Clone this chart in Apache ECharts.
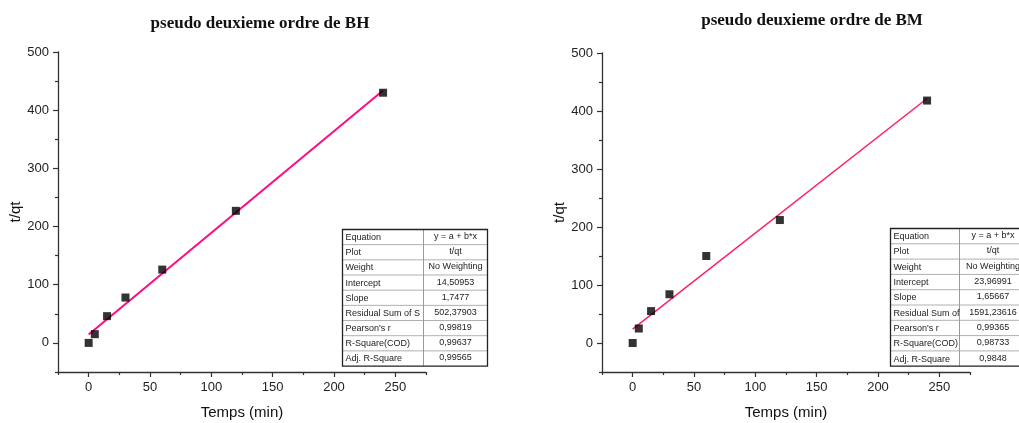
<!DOCTYPE html>
<html>
<head>
<meta charset="utf-8">
<script src="https://cdn.jsdelivr.net/npm/echarts@6/dist/echarts.min.js"></script>
<style>
  html, body { margin: 0; padding: 0; background: #fff; }
  #chart { width: 1019px; height: 423px; }
</style>
</head>
<body>
<div id="chart"></div>
<script>
// data
const temps = [0, 5, 15, 30, 60, 120, 240];
const tqtBH = [0, 15, 46, 78, 126, 227, 430];
const tqtBM = [0, 25, 55, 84, 150, 212, 418];

// linear fit y = a + b*x (from the stats tables)
const fitBH = [14.50953, 1.7477];
const fitBM = [23.96991, 1.65667];
const fitRange = [0, 240];

const xTicks = [0, 50, 100, 150, 200, 250];
const xMinorTicks = [-25, 25, 75, 125, 175, 225, 275];
const yTicks = [0, 100, 200, 300, 400, 500];
const yMinorTicks = [-50, 50, 150, 250, 350, 450];

const tableLabels = ["Equation", "Plot", "Weight", "Intercept", "Slope",
  "Residual Sum of Squares", "Pearson's r", "R-Square(COD)", "Adj. R-Square"];
const tableBH = ["y = a + b*x", "t/qt", "No Weighting", "14,50953", "1,7477",
  "502,37903", "0,99819", "0,99637", "0,99565"];
const tableBM = ["y = a + b*x", "t/qt", "No Weighting", "23,96991", "1,65667",
  "1591,23616", "0,99365", "0,98733", "0,9848"];

const sans = "'Liberation Sans', Arial, sans-serif";
const serif = "'Liberation Serif', 'Times New Roman', serif";
const axisColor = "#333";

const chart = echarts.init(document.getElementById("chart"));

function mainX(grid) {
  return {
    type: "value", gridIndex: grid, position: "bottom", min: -25, max: 275,
    name: "Temps (min)", nameLocation: "middle", nameGap: 33,
    nameTextStyle: { fontFamily: sans, fontSize: 15, color: "#111" },
    axisLine: { show: true, onZero: false, lineStyle: { color: axisColor, width: 1.3 } },
    axisTick: { show: true, length: 5, customValues: xTicks, lineStyle: { color: axisColor, width: 1.2 } },
    axisLabel: { customValues: xTicks, fontFamily: sans, fontSize: 13, color: "#222", margin: 9 },
    splitLine: { show: false }
  };
}
function minorX(grid) {
  return {
    type: "value", gridIndex: grid, position: "bottom", min: -25, max: 275,
    axisLine: { show: false, onZero: false },
    axisTick: { show: true, length: 3, customValues: xMinorTicks, lineStyle: { color: axisColor, width: 1.2 } },
    axisLabel: { show: false },
    splitLine: { show: false }
  };
}
function mainY(grid) {
  return {
    type: "value", gridIndex: grid, position: "left", min: -50, max: 500,
    name: "t/qt", nameLocation: "middle", nameGap: 32, nameRotate: 90,
    nameTextStyle: { fontFamily: sans, fontSize: 15, color: "#111" },
    axisLine: { show: true, onZero: false, lineStyle: { color: axisColor, width: 1.3 } },
    axisTick: { show: true, length: 5, customValues: yTicks, lineStyle: { color: axisColor, width: 1.2 } },
    axisLabel: { customValues: yTicks, fontFamily: sans, fontSize: 13, color: "#222", margin: 9 },
    splitLine: { show: false }
  };
}
function minorY(grid) {
  return {
    type: "value", gridIndex: grid, position: "left", min: -50, max: 500,
    axisLine: { show: false, onZero: false },
    axisTick: { show: true, length: 3, customValues: yMinorTicks, lineStyle: { color: axisColor, width: 1.2 } },
    axisLabel: { show: false },
    splitLine: { show: false }
  };
}

function fitLine(fit) {
  return fitRange.map(x => [x, fit[0] + fit[1] * x]);
}

function buildTable(x, y, w1, w2, rowH, values) {
  const children = [];
  const n = tableLabels.length;
  const w = w1 + w2, h = n * rowH;
  children.push({ type: "rect", shape: { x: 0, y: 0, width: w, height: h }, style: { fill: "#fff" } });
  for (let i = 1; i < n; i++) {
    children.push({ type: "line", shape: { x1: 0, y1: i * rowH, x2: w, y2: i * rowH },
      style: { stroke: "#b0b0b0", lineWidth: 1 } });
  }
  children.push({ type: "line", shape: { x1: w1, y1: 0, x2: w1, y2: h }, style: { stroke: "#999", lineWidth: 1 } });
  children.push({ type: "rect", shape: { x: 0, y: 0, width: w, height: h },
    style: { fill: null, stroke: "#222", lineWidth: 1.3 } });
  tableLabels.forEach((t, i) => {
    children.push({ type: "text", x: 3, y: i * rowH + rowH / 2 + 0.5,
      style: { text: t, font: "9px " + sans, fill: "#222", verticalAlign: "middle",
        width: w1 - 1, overflow: "truncate", ellipsis: "" } });
  });
  values.forEach((t, i) => {
    children.push({ type: "text", x: w1 + w2 / 2, y: i * rowH + rowH / 2 - 0.5,
      style: { text: t, font: "9px " + sans, fill: "#222", align: "center", verticalAlign: "middle" } });
  });
  return { type: "group", x: x, y: y, z: 100, children: children };
}

const option = {
  backgroundColor: "#fff",
  animation: false,
  title: [
    { text: "pseudo deuxieme ordre de BH", left: 255, top: 10, textAlign: "center",
      textStyle: { fontFamily: serif, fontSize: 17, fontWeight: "bold", color: "#111" } },
    { text: "pseudo deuxieme ordre de BM", left: 807, top: 7, textAlign: "center",
      textStyle: { fontFamily: serif, fontSize: 17, fontWeight: "bold", color: "#111" } }
  ],
  grid: [
    { left: 58, right: 593, top: 52, bottom: 51, outerBoundsMode: "none" },
    { left: 602, right: 49, top: 53, bottom: 51, outerBoundsMode: "none" }
  ],
  xAxis: [mainX(0), minorX(0), mainX(1), minorX(1)],
  yAxis: [mainY(0), minorY(0), mainY(1), minorY(1)],
  series: [
    {
      type: "line", xAxisIndex: 0, yAxisIndex: 0, data: fitLine(fitBH),
      showSymbol: false, lineStyle: { color: "#ff0a84", width: 2 }, z: 2
    },
    {
      type: "scatter", xAxisIndex: 0, yAxisIndex: 0,
      data: temps.map((t, i) => [t, tqtBH[i]]),
      symbol: "rect", symbolSize: 8, itemStyle: { color: "#000" }, z: 3
    },
    {
      type: "line", xAxisIndex: 2, yAxisIndex: 2, data: fitLine(fitBM),
      showSymbol: false, lineStyle: { color: "#ff1f5e", width: 1.5 }, z: 2
    },
    {
      type: "scatter", xAxisIndex: 2, yAxisIndex: 2,
      data: temps.map((t, i) => [t, tqtBM[i]]),
      symbol: "rect", symbolSize: 8, itemStyle: { color: "#000" }, z: 3
    }
  ],
  graphic: [
    buildTable(342.5, 229.5, 81, 64, 15.17, tableBH),
    buildTable(890.5, 228.5, 69, 67, 15.3, tableBM)
  ]
};

chart.setOption(option);

window.addEventListener("resize", () => chart.resize());
</script>
</body>
</html>
